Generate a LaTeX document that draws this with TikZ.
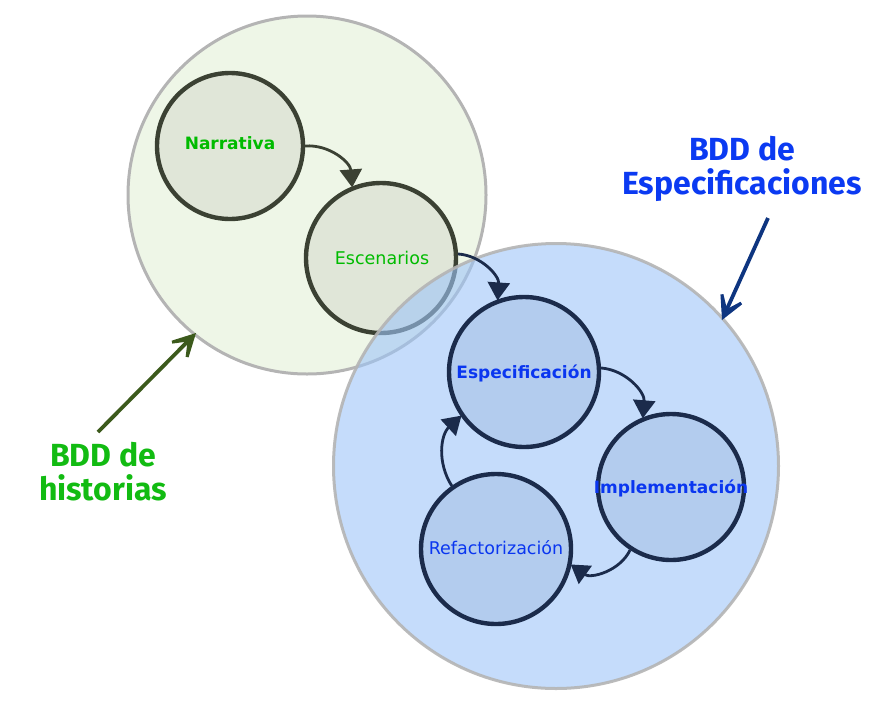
\documentclass[tikz,border=0pt]{standalone}
\usepackage{fontspec}
\setmainfont{DejaVu Sans}
\newfontfamily\bigfont{Fira Sans}
\usetikzlibrary{arrows.meta}
\definecolor{bgGreen}{HTML}{EEF6E7}
\definecolor{smGreen}{HTML}{E0E6D8}
\definecolor{bgBlue}{HTML}{9EC5F8}
\definecolor{smBlue}{HTML}{B3CCEE}
\definecolor{ringGray}{HTML}{B4B4B4}
\definecolor{darkGreenGray}{HTML}{3B4133}
\definecolor{navy}{HTML}{1B2B4B}
\definecolor{txtGreen}{HTML}{00BB00}
\definecolor{txtBlue}{HTML}{0A36F0}
\definecolor{lblGreen}{HTML}{12BB12}
\definecolor{lblBlue}{HTML}{0B3AF2}
\definecolor{arrGreen}{HTML}{3C5A1C}
\definecolor{arrBlue}{HTML}{0E3580}
\begin{document}
\begin{tikzpicture}[x=1pt,y=1pt,
  bigcirc/.style={circle,draw=ringGray,line width=3pt,inner sep=0pt},
  smallcirc/.style={circle,line width=4.4pt,inner sep=0pt,minimum size=148pt},
  flowarrow/.style={line width=2.8pt,-{Triangle[length=18pt,width=22pt]},shorten >=-1pt},
  bigarrow/.style={line width=3.8pt,-{Stealth[length=38pt,width=40pt,inset=26pt]}},
  boldlbl/.style={font=\bfseries\fontsize{17}{19}\selectfont},
  reglbl/.style={font=\fontsize{17.5}{19}\selectfont},
  biglbl/.style={font=\bigfont\bfseries\fontsize{32}{34}\selectfont,align=center}]
\useasboundingbox (0,0) rectangle (875,-702);
% green big circle
\node[bigcirc,fill=bgGreen,minimum size=358pt] (G) at (307,-195) {};
\node[smallcirc,draw=darkGreenGray,fill=smGreen,minimum size=146pt] (N) at (230,-146) {};
\node[smallcirc,draw=darkGreenGray,fill=smGreen,minimum size=150pt] (E) at (381,-258) {};
\node[boldlbl,text=txtGreen] (Nt) at (230,-143) {Narrativa};
\node[reglbl,text=txtGreen] (Et) at (382,-258) {Escenarios};
\draw[flowarrow,darkGreenGray] (N.0) to[bend left=45] (E.112);
% blue big circle
\node[bigcirc,fill=bgBlue,fill opacity=0.6,draw opacity=0.9,minimum size=445pt] (B) at (556,-466) {};
\node[smallcirc,draw=navy,fill=smBlue,minimum size=150pt] (S) at (524,-372) {};
\node[smallcirc,draw=navy,fill=smBlue,minimum size=146pt] (I) at (671,-487) {};
\node[smallcirc,draw=navy,fill=smBlue,minimum size=150pt] (R) at (496,-549) {};
\node[boldlbl,text=txtBlue] (St) at (524,-373) {Especificación};
\node[boldlbl,text=txtBlue] (It) at (671,-488) {Implementación};
\node[reglbl,text=txtBlue] (Rt) at (496,-548) {Refactorización};
\draw[flowarrow,navy] (E.3) to[bend left=45] (S.110);
\draw[flowarrow,navy] (S.3) to[bend left=45] (I.112);
\draw[flowarrow,navy] (I.237) to[bend left=50] (R.-12);
\draw[flowarrow,navy] (R.125) to[bend left=40] (S.215);
% labels
\node[biglbl,text=lblBlue] (LB) at (742,-169) {BDD de\\Especificaciones};
\node[biglbl,text=lblGreen] (LG) at (103,-472) {BDD de\\historias};
\coordinate (bTail) at (768,-218);
\coordinate (bTip) at (722,-320);
\coordinate (gTail) at (98,-432);
\coordinate (gTip) at (196,-333);
\draw[bigarrow,arrBlue] (bTail) -- (bTip);
\draw[bigarrow,arrGreen] (gTail) -- (gTip);
\end{tikzpicture}
\end{document}
